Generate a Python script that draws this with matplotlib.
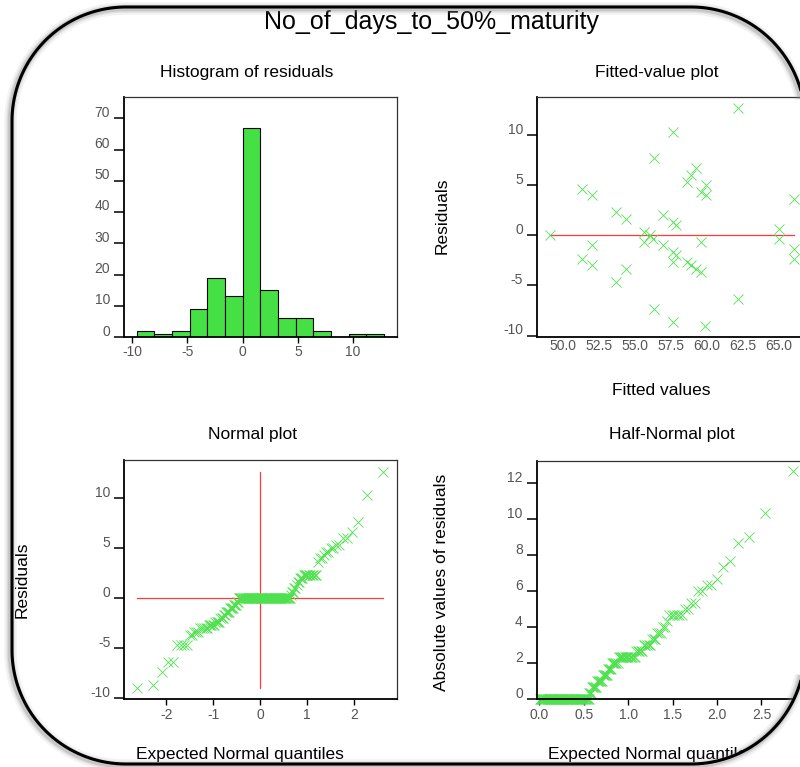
import numpy as np
import matplotlib
matplotlib.use('Agg')
import matplotlib.pyplot as plt
from matplotlib.path import Path
from matplotlib.patches import PathPatch, Polygon
import matplotlib.transforms as mtransforms
from statistics import NormalDist

plt.rcParams['font.family'] = ['Liberation Sans', 'DejaVu Sans']
plt.rcParams['axes.unicode_minus'] = False

# ---------------- data ----------------
title = "No_of_days_to_50%_maturity"

# residuals (distinct values and how many times each occurs), n = 144
resid_values = [-9.0, -8.67, -7.33, -6.33, -4.67, -3.67, -3.33, -3.0, -2.67, -2.33,
                -2.0, -1.67, -1.33, -1.0, -0.67, -0.33, 0.0, 0.33, 0.67, 1.0,
                1.33, 1.67, 2.0, 2.33, 3.67, 4.0, 4.33, 4.67, 5.0, 5.33,
                6.0, 6.67, 7.67, 10.33, 12.67]
resid_counts = [1, 1, 1, 2, 4, 2, 3, 5, 5, 4,
                3, 2, 4, 4, 3, 2, 61, 1, 2, 2,
                1, 2, 3, 10, 1, 2, 1, 2, 2, 2,
                2, 1, 1, 1, 1]

hist_edges = [-9.6, -8.0, -6.4, -4.8, -3.2, -1.6, 0.0, 1.6, 3.2, 4.8,
              6.4, 8.0, 9.6, 11.2, 12.8]

fitted_values = [49.07, 51.33, 52.0, 51.33, 52.0, 52.0, 53.7, 54.35, 54.35, 53.7,
                 55.65, 55.65, 56.05, 56.28, 56.33, 56.33, 56.95, 56.95, 57.65, 57.65,
                 57.86, 57.65, 57.86, 57.65, 57.65, 58.6, 58.93, 59.28, 58.6, 58.93,
                 59.28, 59.6, 59.6, 59.6, 59.93, 59.93, 59.88, 62.2, 62.2, 65.07,
                 65.07, 66.1, 66.1, 66.1]
fitted_resid = [0.0, 4.67, 4.0, -2.33, -1.0, -3.0, 2.33, 1.67, -3.33, -4.67,
                0.33, -0.67, 0.0, -0.33, 7.67, -7.33, 2.0, -1.0, 10.33, 1.33,
                1.0, -1.67, -2.0, -2.67, -8.67, 5.33, 6.0, 6.67, -2.67, -3.0,
                -3.33, -3.67, -0.67, 4.33, 5.0, 4.0, -9.0, 12.67, -6.33, 0.67,
                -0.33, 3.67, -1.33, -2.33]

hist_xticks = [-10, -5, 0, 5, 10]
hist_yticks = [0, 10, 20, 30, 40, 50, 60, 70]
fit_xticks = [50.0, 52.5, 55.0, 57.5, 60.0, 62.5, 65.0]
resid_yticks = [-10, -5, 0, 5, 10]
norm_xticks = [-2, -1, 0, 1, 2]
half_xticks = [0.0, 0.5, 1.0, 1.5, 2.0, 2.5]
half_yticks = [0, 2, 4, 6, 8, 10, 12]

# ---------------- derived ----------------
residuals = np.sort(np.repeat(resid_values, resid_counts))
n = len(residuals)
nd = NormalDist()
ranks = np.arange(1, n + 1)
norm_q = np.array([nd.inv_cdf((i - 0.375) / (n + 0.25)) for i in ranks])
abs_res = np.sort(np.abs(residuals))
half_q = np.array([nd.inv_cdf(0.5 + 0.5 * (i - 0.375) / (n + 0.25)) for i in ranks])

# ---------------- style ----------------
W, H = 800, 767
BAR = '#44e044'
MK = '#4ee04e'
RED = '#ff3b3b'
TICKC = '#555555'

fig = plt.figure(figsize=(W / 100, H / 100), dpi=100)
fig.patch.set_facecolor('white')


def px_axes(l, t, r, b):
    return fig.add_axes([l / W, 1 - b / H, (r - l) / W, (b - t) / H])


def ftext(x, y, s, **kw):
    return fig.text(x / W, 1 - y / H, s, **kw)


def style(ax, xlen=4, xpad=2):
    for s in ['left', 'bottom']:
        ax.spines[s].set_linewidth(1.3)
        ax.spines[s].set_color('black')
    for s in ['top', 'right']:
        ax.spines[s].set_linewidth(0.9)
        ax.spines[s].set_color('#333333')
    ax.tick_params(axis='y', direction='out', length=7, width=1.1, color='black',
                   labelsize=10, labelcolor=TICKC, pad=3)
    ax.tick_params(axis='x', direction='out', length=xlen, width=1.0, color='black',
                   labelsize=10, labelcolor=TICKC, pad=xpad)


mk = dict(linestyle='none', marker='x', ms=7, mew=0.6, color=MK)

# Histogram
ax1 = px_axes(124, 97, 397, 337)
ax1.hist(residuals, bins=hist_edges, color=BAR, edgecolor='black', linewidth=0.8)
ax1.set_xlim(-10.75, 13.98)
ax1.set_ylim(0, 76.8)
ax1.set_xticks(hist_xticks)
ax1.set_yticks(hist_yticks)
style(ax1)

# Fitted-value plot
ax2 = px_axes(537, 97, 807, 337.3)
ax2.plot([min(fitted_values), max(fitted_values)], [0, 0], color=RED, lw=0.9)
ax2.plot(fitted_values, fitted_resid, **mk)
ax2.set_xlim(48.16, 67.0)
ax2.set_ylim(-10.17, 13.8)
ax2.set_xticks(fit_xticks)
ax2.set_xticklabels([f"{v:.1f}" for v in fit_xticks])
ax2.set_yticks(resid_yticks)
style(ax2, xlen=0, xpad=1)

# Normal plot
ax3 = px_axes(124.3, 460, 396.7, 699.3)
ax3.plot([norm_q.min(), norm_q.max()], [0, 0], color=RED, lw=0.9)
ax3.plot([0, 0], [residuals.min(), residuals.max()], color=RED, lw=0.9)
ax3.plot(norm_q, residuals, **mk)
ax3.set_xlim(-2.894, 2.909)
ax3.set_ylim(-10.1, 13.83)
ax3.set_xticks(norm_xticks)
ax3.set_yticks(resid_yticks)
style(ax3)

# Half-normal plot
ax4 = px_axes(536.7, 460.7, 805, 699.3)
ax4.plot(half_q, abs_res, clip_on=False, **mk)
ax4.set_xlim(-0.03, 2.99)
ax4.set_ylim(0, 13.26)
ax4.set_xticks(half_xticks)
ax4.set_xticklabels([f"{v:.1f}" for v in half_xticks])
ax4.set_yticks(half_yticks)
style(ax4)

# Texts
ftext(431, 22, title, ha='center', va='center', fontsize=18)
tkw = dict(ha='center', va='center', fontsize=12.5)
ftext(247, 73, "Histogram of residuals", **tkw)
ftext(657, 73, "Fitted-value plot", **tkw)
ftext(253, 435, "Normal plot", **tkw)
ftext(672, 435, "Half-Normal plot", **tkw)
lkw = dict(ha='center', va='center', fontsize=12.5)
ftext(441.7, 216, "Residuals", rotation=90, **lkw)
ftext(661, 391, "Fitted values", **lkw)
ftext(22, 580, "Residuals", rotation=90, **lkw)
ftext(441.7, 582, "Absolute values of residuals", rotation=90, **lkw)
ftext(240, 755, "Expected Normal quantiles", **lkw)
ftext(652, 755, "Expected Normal quantiles", **lkw)

# Frame overlay (rounded rectangle with white mask outside)
ov = fig.add_axes([0, 0, 1, 1])
ov.set_zorder(10)
ov.set_xlim(0, W)
ov.set_ylim(H, 0)
ov.axis('off')
ov.patch.set_visible(False)


def rounded_rect(x0, y0, x1, y1, r, m=60):
    pts = []
    for cx, cy, a0 in [(x0 + r, y0 + r, 180), (x1 - r, y0 + r, 270),
                       (x1 - r, y1 - r, 0), (x0 + r, y1 - r, 90)]:
        ang = np.deg2rad(np.linspace(a0, a0 + 90, m))
        pts.append(np.column_stack([cx + r * np.cos(ang), cy + r * np.sin(ang)]))
    return np.vstack(pts)


def signed_area(p):
    x, y = p[:, 0], p[:, 1]
    return 0.5 * np.sum(x * np.roll(y, -1) - np.roll(x, -1) * y)


inner = rounded_rect(12, 7, 805, 764, 114)
outer = np.array([[-50, -50], [-50, H + 50], [W + 50, H + 50], [W + 50, -50]], float)
if np.sign(signed_area(inner)) == np.sign(signed_area(outer)):
    outer = outer[::-1]
verts = np.vstack([outer, outer[:1], inner, inner[:1]])
codes = ([Path.MOVETO] + [Path.LINETO] * (len(outer) - 1) + [Path.CLOSEPOLY] +
         [Path.MOVETO] + [Path.LINETO] * (len(inner) - 1) + [Path.CLOSEPOLY])
ov.add_patch(PathPatch(Path(verts, codes), facecolor='white', edgecolor='none'))
for lw, a in [(9, 0.10), (6, 0.16), (4, 0.28)]:
    ov.add_patch(Polygon(inner + np.array([-1.5, 1.5]), closed=True, fill=False,
                         edgecolor='#888888', lw=lw, alpha=a, joinstyle='round'))
ov.add_patch(Polygon(inner, closed=True, fill=False, edgecolor='black', lw=2.2,
                     joinstyle='round'))

# shift y tick labels upward (as in the original rendering)
fig.canvas.draw()
off = mtransforms.ScaledTranslation(0, 7 / 100, fig.dpi_scale_trans)
for ax in [ax1, ax2, ax3, ax4]:
    for lab in ax.get_yticklabels():
        lab.set_transform(lab.get_transform() + off)

fig.savefig('out.png', dpi=100, facecolor='white')
